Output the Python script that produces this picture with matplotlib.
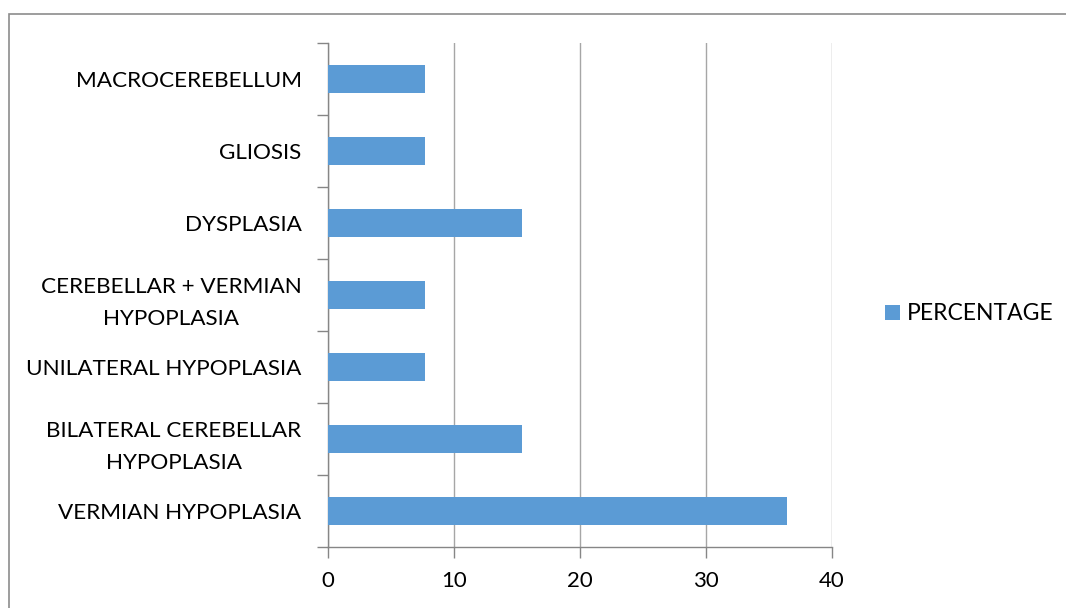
import matplotlib
matplotlib.use("Agg")
import matplotlib.pyplot as plt
from matplotlib.patches import Rectangle

categories = [
    "VERMIAN HYPOPLASIA",
    "BILATERAL CEREBELLAR\nHYPOPLASIA",
    "UNILATERAL HYPOPLASIA",
    "CEREBELLAR + VERMIAN\nHYPOPLASIA",
    "DYSPLASIA",
    "GLIOSIS",
    "MACROCEREBELLUM",
]
percentage = [36.4, 15.4, 7.7, 7.7, 15.4, 7.7, 7.7]
x_ticks = [0, 10, 20, 30, 40]

plt.rcParams["font.family"] = ["Lato", "DejaVu Sans"]

W, H = 1066, 608
fig = plt.figure(figsize=(W / 100, H / 100), dpi=100)
ax = fig.add_axes([328 / W, 1 - 547 / H, (832 - 328) / W, (547 - 43) / H])

bar_color = "#5B9BD5"
axis_color = "#868686"
grid_color = "#A6A6A6"

ypos = list(range(len(categories)))
ax.barh(ypos, percentage, height=0.4, color=bar_color, zorder=3,
        label="PERCENTAGE")

ax.set_xlim(0, 40)
ax.set_ylim(-0.5, len(categories) - 0.5)
ax.set_xticks(x_ticks)
ax.set_xticklabels([str(v) for v in x_ticks], fontsize=16)

# Category ticks sit between the bars; labels sit at the bar centers
ax.set_yticks([i - 0.5 for i in range(len(categories) + 1)])
ax.set_yticklabels([])
ax.set_yticks(ypos, minor=True)
ax.set_yticklabels(categories, minor=True, fontsize=16.2,
                   multialignment="center", linespacing=1.75)
ax.tick_params(axis="y", which="minor", length=0, pad=19)
ax.tick_params(axis="y", which="major", length=8, width=1,
               color=axis_color, direction="out")
ax.tick_params(axis="x", length=8, width=1, color=axis_color,
               direction="out", pad=9)

ax.grid(axis="x", color=grid_color, linewidth=1, zorder=0)
for side in ("top", "right"):
    ax.spines[side].set_visible(False)
for side in ("left", "bottom"):
    ax.spines[side].set_color(axis_color)
    ax.spines[side].set_linewidth(1)

leg = fig.legend(loc="center left", bbox_to_anchor=(864 / W, 1 - 314 / H),
                 frameon=False, fontsize=16.5, handlelength=0.65,
                 handleheight=0.65, handletextpad=0.32)

# Outer chart frame
fig.patches.append(Rectangle((9 / W, -0.1), 1.2, 1 - 14 / H + 0.1,
                             transform=fig.transFigure, fill=False,
                             edgecolor="#8C8C8C", linewidth=1.2,
                             clip_on=False))

fig.savefig("out.png", dpi=100)
